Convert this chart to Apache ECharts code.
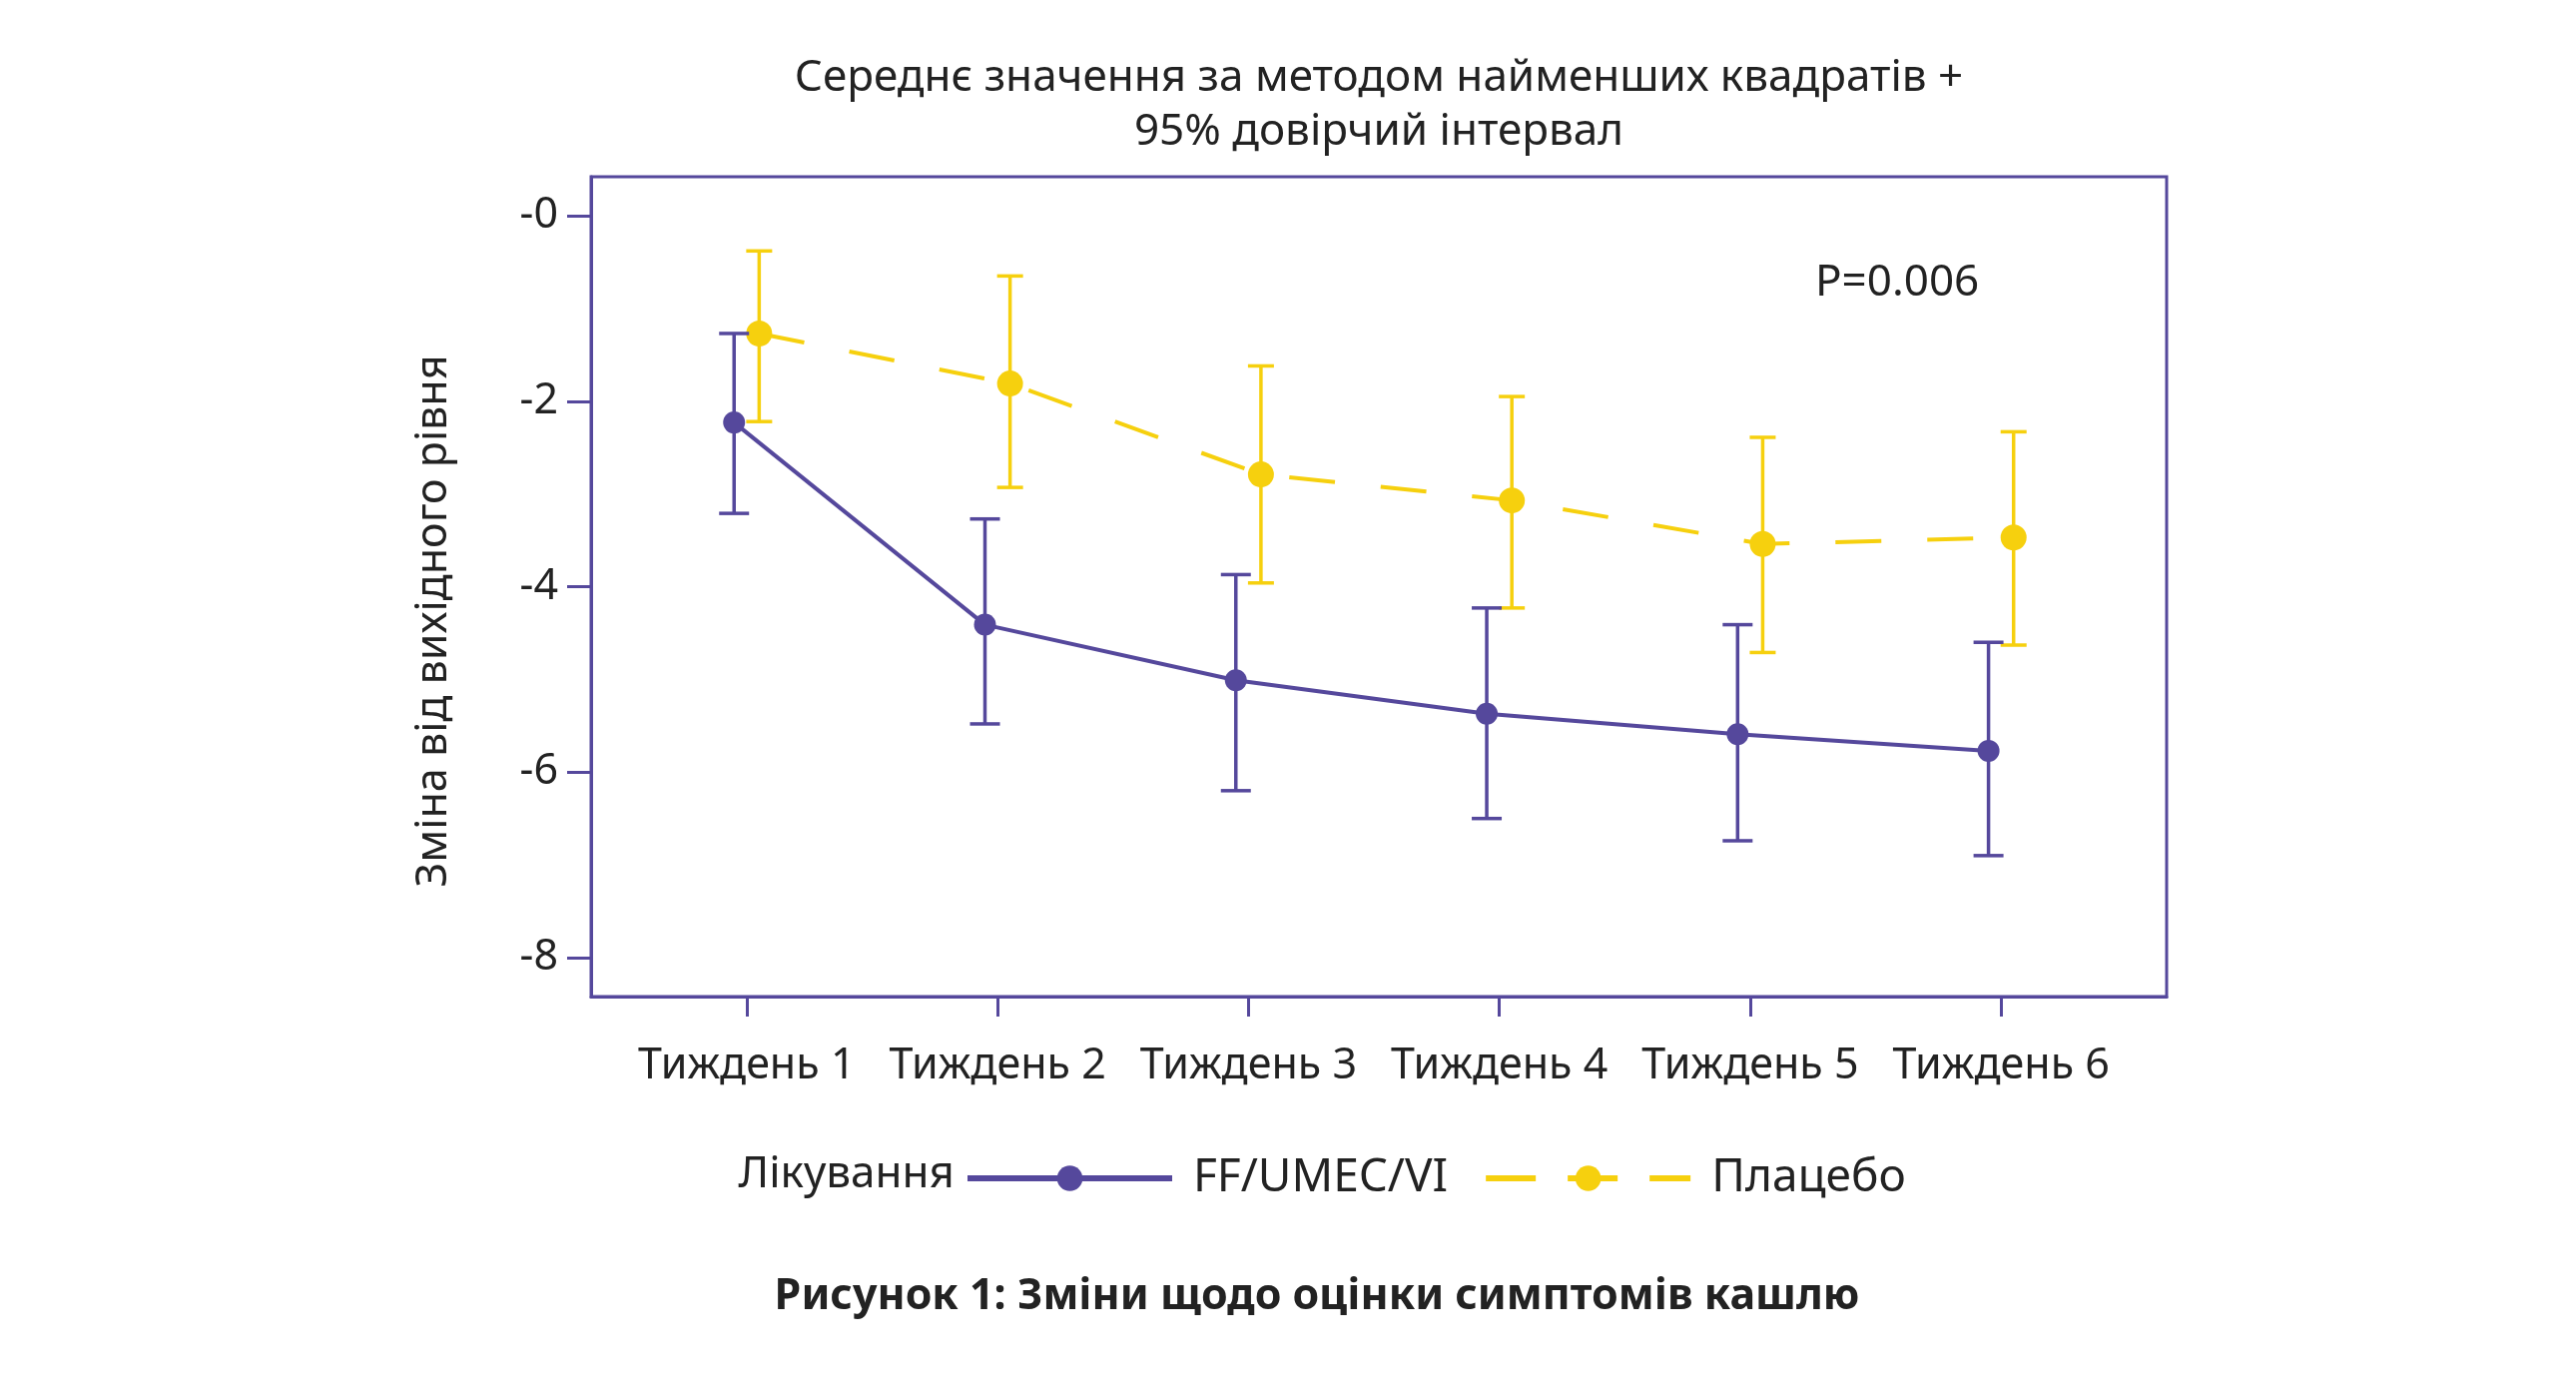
<!DOCTYPE html>
<html>
<head>
<meta charset="utf-8">
<script src="https://cdn.jsdelivr.net/npm/echarts@6/dist/echarts.min.js"></script>
<style>
  html, body { margin: 0; padding: 0; background: #fff; }
  #chart { width: 2580px; height: 1401px; }
</style>
</head>
<body>
<div id="chart"></div>
<script>
// дані
const weeks = [1, 2, 3, 4, 5, 6];
const weekLabels = ['Тиждень 1', 'Тиждень 2', 'Тиждень 3', 'Тиждень 4', 'Тиждень 5', 'Тиждень 6'];
const yTicks = [0, -2, -4, -6, -8];

const activeName = 'FF/UMEC/VI';
const activeMean = [-2.23, -4.41, -5.01, -5.37, -5.59, -5.77];
const activeLow = [-3.21, -5.48, -6.20, -6.50, -6.74, -6.90];
const activeHigh = [-1.27, -3.27, -3.87, -4.23, -4.41, -4.60];

const placeboName = 'Плацебо';
const placeboMean = [-1.27, -1.81, -2.79, -3.07, -3.54, -3.47];
const placeboLow = [-2.22, -2.93, -3.96, -4.23, -4.71, -4.63];
const placeboHigh = [-0.38, -0.65, -1.62, -1.95, -2.39, -2.33];

const purple = '#55489c';
const yellow = '#f6d00e';
const textColor = '#222';
const font = '"Noto Sans", sans-serif';

// невеликий зсув серій, щоб інтервали не накладались
const dodge = 0.05;

let myChart = echarts.init(document.getElementById('chart'));

function meanData(mean, shift) {
  return weeks.map((w, i) => [w + shift, mean[i]]);
}
function barData(low, high, shift) {
  return weeks.map((w, i) => [w + shift, low[i], high[i]]);
}
function errorBars(color, capHalf) {
  return function (params, api) {
    let x = api.value(0);
    let lo = api.coord([x, api.value(1)]);
    let hi = api.coord([x, api.value(2)]);
    let style = {stroke: color, lineWidth: 3.5};
    return {
      type: 'group',
      children: [
        {type: 'line', shape: {x1: lo[0], y1: lo[1], x2: hi[0], y2: hi[1]}, style: style},
        {type: 'line', shape: {x1: lo[0] - capHalf, y1: lo[1], x2: lo[0] + capHalf, y2: lo[1]}, style: style},
        {type: 'line', shape: {x1: hi[0] - capHalf, y1: hi[1], x2: hi[0] + capHalf, y2: hi[1]}, style: style}
      ]
    };
  };
}

let option = {
  animation: false,
  backgroundColor: '#fff',
  title: [
    {
      text: 'Середнє значення за методом найменших квадратів +\n95% довірчий інтервал',
      left: 1376, top: 46, textAlign: 'center',
      textStyle: {fontFamily: font, fontWeight: 'normal', fontSize: 44, lineHeight: 54, color: textColor}
    },
    {
      text: 'Рисунок 1: Зміни щодо оцінки симптомів кашлю',
      left: 1314, top: 1272, textAlign: 'center',
      textStyle: {fontFamily: font, fontWeight: 'bold', fontSize: 43, color: textColor}
    }
  ],
  graphic: [
    {type: 'text', x: 1818, y: 283,
      style: {text: 'P=0.006', font: '44px ' + font, fill: textColor, verticalAlign: 'middle'}},
    {type: 'text', x: 956, y: 1176,
      style: {text: 'Лікування', font: '44px ' + font, fill: textColor, align: 'right', verticalAlign: 'middle'}},
    {type: 'text', x: 435, y: 622, rotation: Math.PI / 2,
      style: {text: 'Зміна від вихідного рівня', font: '43px ' + font, fill: textColor, align: 'center', verticalAlign: 'middle'}}
  ],
  legend: {
    left: 966, top: 1157, padding: 0,
    itemWidth: 205, itemHeight: 32, itemGap: 35,
    lineStyle: {width: 6},
    data: [
      {name: activeName},
      {name: placeboName, lineStyle: {width: 6, type: [50, 32]}}
    ],
    textStyle: {fontFamily: font, fontSize: 46, color: textColor, padding: [0, 0, 0, 16]}
  },
  grid: {
    left: 592, right: 410, top: 177, bottom: 403,
    show: true, borderColor: purple, borderWidth: 3
  },
  xAxis: {
    type: 'value', min: 0.38, max: 6.66,
    splitLine: {show: false},
    axisLine: {onZero: false, lineStyle: {color: purple, width: 3}},
    axisTick: {customValues: weeks, length: 20, lineStyle: {color: purple, width: 3}},
    axisLabel: {
      customValues: weeks, margin: 48,
      fontFamily: font, fontSize: 43, color: textColor,
      formatter: v => weekLabels[weeks.indexOf(v)]
    }
  },
  yAxis: {
    type: 'value', min: -8.42, max: 0.42,
    splitLine: {show: false},
    axisLine: {onZero: false, lineStyle: {color: purple, width: 3}},
    axisTick: {customValues: yTicks, length: 24, lineStyle: {color: purple, width: 3}},
    axisLabel: {
      customValues: yTicks, margin: 33,
      fontFamily: font, fontSize: 43, color: textColor,
      formatter: v => v === 0 ? '-0' : String(v)
    }
  },
  series: [
    {
      type: 'custom', name: placeboName + ' ДІ', silent: true, z: 2,
      renderItem: errorBars(yellow, 13),
      encode: {x: 0, y: [1, 2]},
      data: barData(placeboLow, placeboHigh, dodge)
    },
    {
      type: 'line', name: placeboName, z: 3,
      data: meanData(placeboMean, dodge),
      symbol: 'circle', symbolSize: 26,
      itemStyle: {color: yellow},
      lineStyle: {color: yellow, width: 4, type: [46, 46]}
    },
    {
      type: 'custom', name: activeName + ' ДІ', silent: true, z: 4,
      renderItem: errorBars(purple, 15),
      encode: {x: 0, y: [1, 2]},
      data: barData(activeLow, activeHigh, -dodge)
    },
    {
      type: 'line', name: activeName, z: 5,
      data: meanData(activeMean, -dodge),
      symbol: 'circle', symbolSize: 22,
      itemStyle: {color: purple},
      lineStyle: {color: purple, width: 4}
    }
  ]
};
myChart.setOption(option);
</script>
</body>
</html>
